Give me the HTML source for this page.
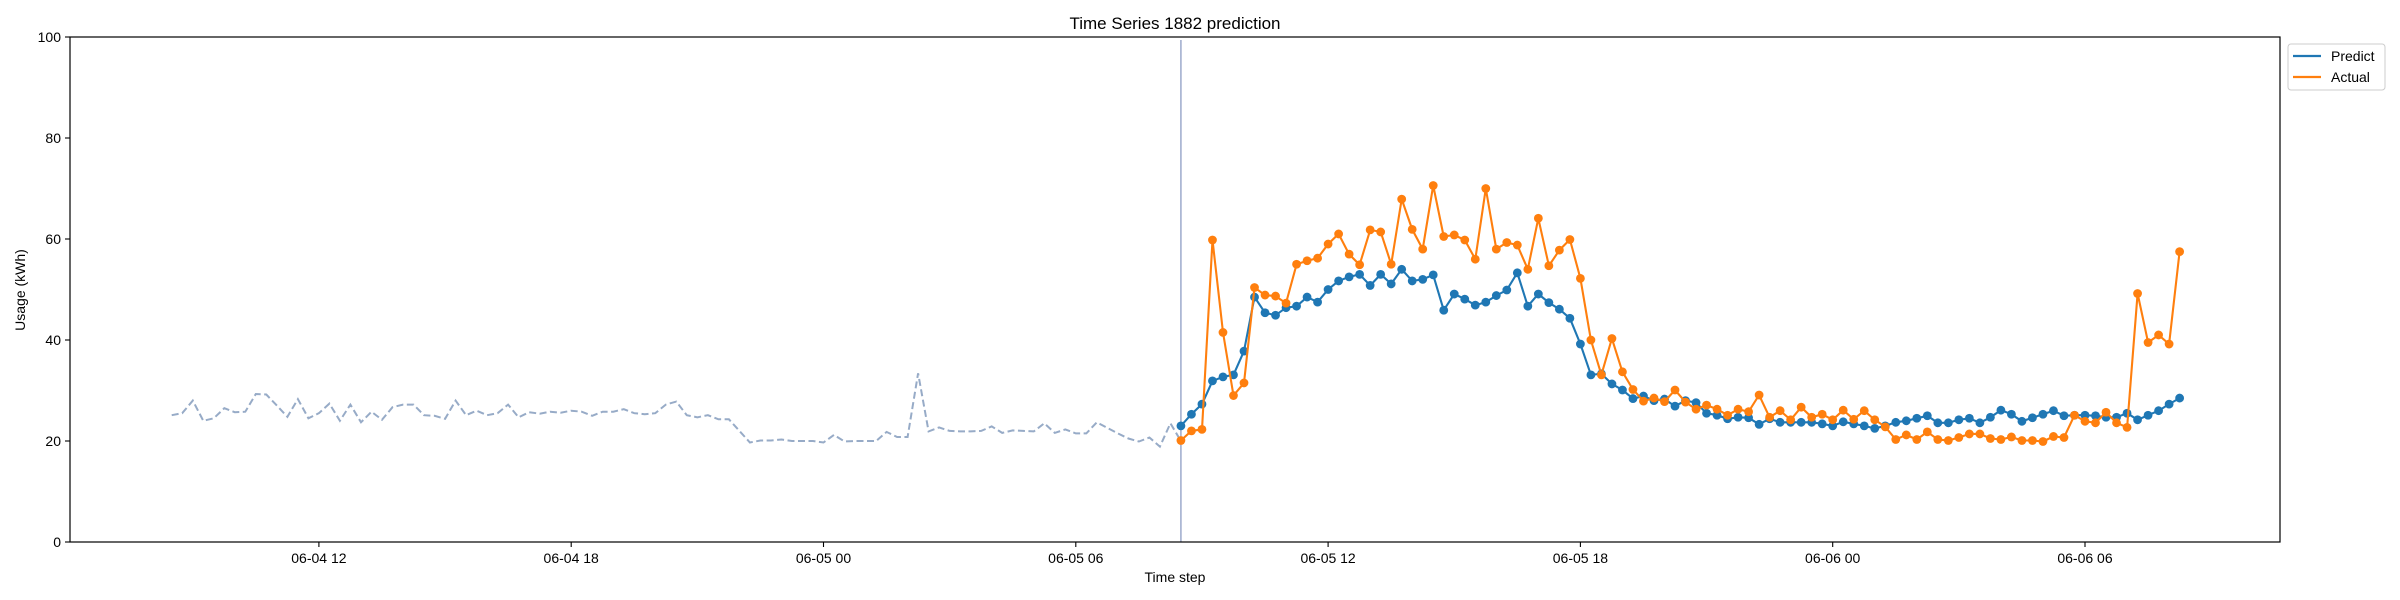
<!DOCTYPE html>
<html><head><meta charset="utf-8"><title>Time Series 1882 prediction</title>
<style>
html,body{margin:0;padding:0;background:#fff;}
svg{display:block;font-family:"Liberation Sans","DejaVu Sans",sans-serif;}
</style></head>
<body>
<svg id="chart" width="2400" height="600" viewBox="0 0 2400 600" xmlns="http://www.w3.org/2000/svg">
<rect x="0" y="0" width="2400" height="600" fill="#fff"/>
<text x="1175" y="29" text-anchor="middle" font-size="17" fill="#000">Time Series 1882 prediction</text>
<g id="plot"></g>
<rect x="70" y="37" width="2210" height="505" fill="none" stroke="#000" stroke-width="1.2"/>
<g id="axes"></g>
<text x="1175" y="582" text-anchor="middle" font-size="14">Time step</text>
<text transform="translate(25,290) rotate(-90)" text-anchor="middle" font-size="14">Usage (kWh)</text>
<g>
<rect x="2288" y="44" width="97" height="46" rx="3" fill="#fff" stroke="#ccc" stroke-width="1"/>
<line x1="2293" y1="56" x2="2321" y2="56" stroke="#1f77b4" stroke-width="2.2"/>
<text x="2331" y="61" font-size="14">Predict</text>
<line x1="2293" y1="77" x2="2321" y2="77" stroke="#ff7f0e" stroke-width="2.2"/>
<text x="2331" y="82" font-size="14">Actual</text>
</g>
</svg>
<script>
// hours relative to 06-05 00:00
const historyStart = -15.5;
const forecastStart = 8.5;
const stepHours = 0.25;
const xTickHours = [-12, -6, 0, 6, 12, 18, 24, 30];
const xTickLabels = ["06-04 12", "06-04 18", "06-05 00", "06-05 06", "06-05 12", "06-05 18", "06-06 00", "06-06 06"];
const yTicks = [0, 20, 40, 60, 80, 100];
const historyValues = [25.1,25.5,28.0,24.0,24.5,26.5,25.7,25.8,29.3,29.2,27.0,24.8,28.3,24.5,25.5,27.4,24.0,27.2,23.7,25.8,24.2,26.7,27.2,27.2,25.1,25.0,24.4,28.0,25.1,26.0,25.1,25.5,27.2,24.7,25.7,25.4,25.8,25.6,26.0,25.8,25.0,25.8,25.8,26.3,25.5,25.3,25.5,27.2,27.8,25.1,24.7,25.1,24.3,24.3,22.0,19.7,20.1,20.1,20.3,20.0,20.0,20.0,19.7,21.2,19.9,20.0,20.0,20.0,21.8,20.8,20.8,33.4,21.9,22.7,22.0,21.9,21.9,22.0,22.9,21.6,22.1,22.0,21.9,23.5,21.6,22.3,21.5,21.5,23.7,22.6,21.5,20.5,19.9,20.7,18.9,23.5,20.0];
const predictValues = [23.0,25.3,27.3,31.9,32.7,33.1,37.8,48.5,45.4,44.9,46.4,46.7,48.5,47.5,50.0,51.7,52.5,53.0,50.8,53.0,51.1,54.0,51.7,52.0,52.9,45.9,49.1,48.1,46.9,47.5,48.8,49.9,53.3,46.7,49.1,47.4,46.1,44.3,39.2,33.1,33.3,31.3,30.1,28.4,28.9,28.0,28.3,26.9,28.0,27.6,25.5,25.1,24.4,24.7,24.6,23.3,24.4,23.7,23.7,23.7,23.7,23.4,23.0,23.8,23.4,23.0,22.5,23.0,23.7,24.0,24.5,25.0,23.6,23.6,24.2,24.5,23.6,24.7,26.1,25.3,23.9,24.6,25.3,26.0,25.0,25.1,25.1,25.0,24.7,24.7,25.5,24.2,25.1,26.0,27.3,28.5];
const actualValues = [20.1,22.0,22.3,59.8,41.5,29.0,31.5,50.4,48.9,48.7,47.3,55.0,55.7,56.2,59.0,61.0,57.0,54.9,61.8,61.4,55.0,67.9,61.9,58.0,70.6,60.5,60.8,59.8,56.0,70.0,58.0,59.3,58.8,54.0,64.1,54.7,57.8,59.9,52.2,40.0,33.1,40.3,33.7,30.2,27.9,28.5,27.8,30.1,27.7,26.3,27.1,26.3,25.1,26.3,25.8,29.1,24.7,26.0,24.2,26.7,24.7,25.3,24.2,26.1,24.3,26.0,24.2,22.8,20.3,21.2,20.3,21.8,20.3,20.1,20.7,21.4,21.4,20.5,20.3,20.8,20.1,20.1,19.9,20.9,20.7,25.1,23.9,23.6,25.7,23.6,22.7,49.2,39.5,41.0,39.2,57.5];

const NS = "http://www.w3.org/2000/svg";
const X0 = 823.5, PXH = 42.05, Y0 = 542, PXV = 5.05;
function xs(h){ return X0 + h * PXH; }
function ys(v){ return Y0 - v * PXV; }
function mk(tag, attrs, parent){
  const e = document.createElementNS(NS, tag);
  for (const k in attrs) e.setAttribute(k, attrs[k]);
  parent.appendChild(e);
  return e;
}
const plot = document.getElementById('plot');
const axes = document.getElementById('axes');

// axis ticks
xTickHours.forEach((h, i) => {
  const t = mk('line', {x1: xs(h), x2: xs(h), y1: 542, y2: 547, stroke: '#000', 'stroke-width': 1.1}, axes);
  
  
  const l = mk('text', {x: xs(h), y: 563, 'text-anchor': 'middle', 'font-size': 14}, axes);
  l.textContent = xTickLabels[i];
  
  
});
yTicks.forEach(v => {
  const t = mk('line', {x1: 65, x2: 70, y1: ys(v), y2: ys(v), stroke: '#000', 'stroke-width': 1.1}, axes);
  
  
  const l = mk('text', {x: 61, y: ys(v) + 5, 'text-anchor': 'end', 'font-size': 14}, axes);
  l.textContent = v;
  
  
});

// history (dashed)
const hp = historyValues.map((v, i) => xs(historyStart + i * stepHours).toFixed(1) + ',' + ys(v).toFixed(1)).join(' ');
const hist = mk('polyline', {points: hp, fill: 'none', stroke: '#97abc7', 'stroke-width': 2, 'stroke-dasharray': '7,3.5'}, plot);



// forecast start vertical line
const vl = mk('line', {x1: xs(forecastStart), x2: xs(forecastStart), y1: 40, y2: 542, stroke: '#8e9dc4', 'stroke-width': 1.3}, plot);



function series(vals, color, name){
  const pts = vals.map((v, i) => xs(forecastStart + i * stepHours).toFixed(1) + ',' + ys(v).toFixed(1)).join(' ');
  const g = mk('g', {}, plot);
  
  
  const pl = mk('polyline', {points: pts, fill: 'none', stroke: color, 'stroke-width': 2.1}, g);
  
  
  vals.forEach((v, i) => {
    const c = mk('circle', {cx: xs(forecastStart + i * stepHours), cy: ys(v), r: 4.4, fill: color}, g);
    
    
  });
}
series(predictValues, '#1f77b4', 'predict');
series(actualValues, '#ff7f0e', 'actual');
</script>
</body></html>
